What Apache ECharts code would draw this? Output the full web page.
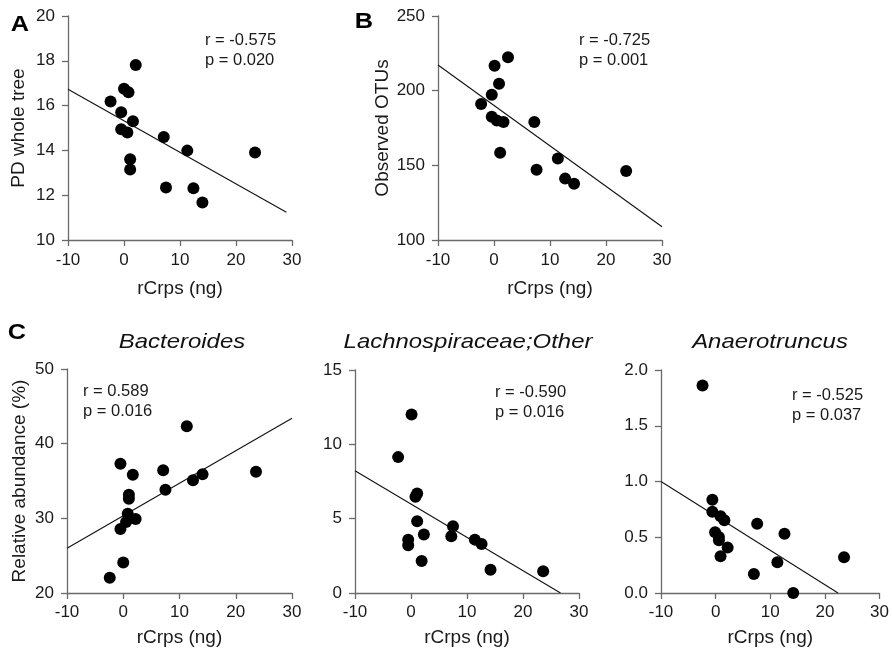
<!DOCTYPE html>
<html lang="en">
<head>
<meta charset="UTF-8">
<title>rCrps correlations</title>
<style>
    html, body { margin: 0; padding: 0; background: #fff; }
    #main { width: 892px; height: 649px; }
</style>
</head>
<body>
<div id="main"></div>
<script src="https://cdn.jsdelivr.net/npm/echarts@6/dist/echarts.min.js"></script>
<script>
    // A - PD whole tree
    var pdX = [-2.4, 2.1, 0.0, 0.8, -0.5, 1.6, -0.5, 0.6, 1.1, 1.1, 7.1, 7.5, 11.3, 12.4, 14.0, 23.4];
    var pdY = [16.18, 17.81, 16.75, 16.6, 15.7, 15.3, 14.94, 14.8, 13.6, 13.15, 14.6, 12.34, 13.99, 12.31, 11.67, 13.91];
    var pdFit = [[-10, 16.73], [29, 11.24]];

    // B - Observed OTUs
    var otuX = [-2.3, 0.1, 2.5, -0.4, 0.9, -0.4, 0.5, 1.7, 1.1, 7.2, 7.6, 11.4, 12.7, 14.3, 23.6];
    var otuY = [191.1, 216.7, 222.3, 197.3, 204.7, 182.6, 180.1, 179.0, 158.5, 179.0, 147.1, 154.5, 141.1, 137.7, 146.2];
    var otuFit = [[-10, 217.2], [30, 108.9]];

    // C - Bacteroides
    var bacX = [-2.4, 0.0, -0.5, -0.5, 1.7, 1.0, 1.0, 0.8, 0.5, 2.2, 7.1, 7.5, 11.3, 12.4, 14.1, 23.6];
    var bacY = [22.05, 24.1, 28.57, 37.32, 35.85, 33.17, 32.63, 30.6, 29.5, 29.9, 36.43, 33.84, 42.32, 35.09, 35.89, 36.25];
    var bacFit = [[-10, 26.0], [30, 43.4]];

    // C - Lachnospiraceae;Other
    var lacX = [-2.3, 0.1, 1.1, 0.8, 1.1, -0.5, -0.5, 2.3, 1.9, 7.2, 7.5, 11.4, 12.6, 14.2, 23.6];
    var lacY = [9.14, 12.01, 6.69, 6.47, 4.83, 3.59, 3.21, 3.93, 2.15, 3.81, 4.49, 3.59, 3.3, 1.57, 1.46];
    var lacFit = [[-10, 8.22], [26.7, 0]];

    // C - Anaerotruncus
    var anaX = [-2.4, -0.6, -0.6, 0.9, 1.6, -0.1, 0.6, 0.6, 2.2, 0.9, 7.6, 7.0, 11.3, 12.6, 14.2, 23.5];
    var anaY = [1.862, 0.837, 0.729, 0.688, 0.652, 0.544, 0.502, 0.472, 0.407, 0.329, 0.622, 0.170, 0.275, 0.532, 0.0, 0.320];
    var anaFit = [[-10, 1.0], [22.4, 0]];

    var yNames = ['PD whole tree', 'Observed OTUs', 'Relative abundance (%)', '', ''];
    var yMins = [10, 100, 20, 0, 0];
    var yMaxs = [20, 250, 50, 15, 2];
    var ySteps = [2, 50, 10, 5, 0.5];
    var rTexts = ['r = -0.575', 'r = -0.725', 'r = 0.589', 'r = -0.590', 'r = -0.525'];
    var pTexts = ['p = 0.020', 'p = 0.001', 'p = 0.016', 'p = 0.016', 'p = 0.037'];
    var titles = ['Bacteroides', 'Lachnospiraceae;Other', 'Anaerotruncus'];

    var panels = [
        {x: pdX, y: pdY, fit: pdFit},
        {x: otuX, y: otuY, fit: otuFit},
        {x: bacX, y: bacY, fit: bacFit},
        {x: lacX, y: lacY, fit: lacFit},
        {x: anaX, y: anaY, fit: anaFit}
    ];

    var FONT = '"Liberation Sans", Arial, sans-serif';
    var axisColor = '#6a6a6a';
    var labelColor = '#1a1a1a';

    // plot boxes
    var grids = [
        {left: 68, top: 16, width: 224, height: 224},
        {left: 438, top: 16, width: 224, height: 224},
        {left: 67, top: 369, width: 225, height: 224},
        {left: 355, top: 370, width: 224, height: 223},
        {left: 661, top: 370, width: 223, height: 223}
    ];
    var xLabelGap = [12, 12, 11, 11, 11];
    var xNameGap = [39, 39, 35, 35, 35];
    var yNameGap = [40, 45, 38, 40, 40];
    // where the r/p text sits: [left, centre y of r line]
    var statPos = [[205, 40], [579, 40], [83, 391], [495, 392], [792, 395]];

    var xAxes = [], yAxes = [], series = [], graphics = [];

    panels.forEach(function (p, i) {
        xAxes.push({
            gridIndex: i,
            type: 'value',
            min: -10, max: 30, interval: 10,
            name: 'rCrps (ng)',
            nameLocation: 'middle',
            nameGap: xNameGap[i],
            nameTextStyle: {fontFamily: FONT, fontSize: 19, color: labelColor},
            axisLine: {onZero: false, lineStyle: {color: axisColor, width: 1.3}},
            axisTick: {length: 6, lineStyle: {color: axisColor, width: 1.3}},
            axisLabel: {fontFamily: FONT, fontSize: 17, color: labelColor, margin: xLabelGap[i]},
            splitLine: {show: false}
        });
        yAxes.push({
            gridIndex: i,
            type: 'value',
            min: yMins[i], max: yMaxs[i], interval: ySteps[i],
            name: yNames[i],
            nameLocation: 'middle',
            nameGap: yNameGap[i],
            nameTextStyle: {fontFamily: FONT, fontSize: 19, color: labelColor},
            axisLine: {show: true, onZero: false, lineStyle: {color: axisColor, width: 1.3}},
            axisTick: {show: true, length: 6, lineStyle: {color: axisColor, width: 1.3}},
            axisLabel: {
                fontFamily: FONT, fontSize: 17, color: labelColor, margin: 13,
                formatter: i === 4 ? function (v) { return v.toFixed(1); } : null
            },
            splitLine: {show: false}
        });
        series.push({
            type: 'line',
            xAxisIndex: i, yAxisIndex: i,
            data: p.fit,
            showSymbol: false,
            lineStyle: {color: '#111', width: 1.1},
            silent: true,
            z: 1
        });
        series.push({
            type: 'scatter',
            xAxisIndex: i, yAxisIndex: i,
            data: p.x.map(function (v, k) { return [v, p.y[k]]; }),
            symbolSize: 12,
            itemStyle: {color: '#000', opacity: 1},
            z: 2
        });
        graphics.push({
            type: 'text', left: statPos[i][0], top: statPos[i][1] - 10,
            style: {text: rTexts[i] + '\n' + pTexts[i], fontFamily: FONT, fontSize: 16.5,
                    lineHeight: 20, fill: labelColor}
        });
    });

    // panel letters
    var letters = [['A', 20, 25], ['B', 364, 22], ['C', 17, 333]];
    letters.forEach(function (l) {
        graphics.push({
            type: 'text', x: l[1], y: l[2], scaleX: 1.15,
            style: {text: l[0], fontFamily: FONT, fontSize: 22, fontWeight: 'bold', fill: '#000',
                    textAlign: 'center', textVerticalAlign: 'middle'}
        });
    });

    // italic taxon titles, centred over their plots
    var titleCx = [182, 468, 770];
    titles.forEach(function (t, k) {
        graphics.push({
            type: 'text', x: titleCx[k], y: 342, scaleX: 1.14,
            style: {text: t, fontFamily: FONT, fontSize: 21, fontStyle: 'italic', fill: '#111',
                    textAlign: 'center', textVerticalAlign: 'middle'}
        });
    });

    var myChart = echarts.init(document.getElementById('main'));
    myChart.setOption({
        animation: false,
        grid: grids,
        xAxis: xAxes,
        yAxis: yAxes,
        series: series,
        graphic: graphics
    });
</script>
</body>
</html>
